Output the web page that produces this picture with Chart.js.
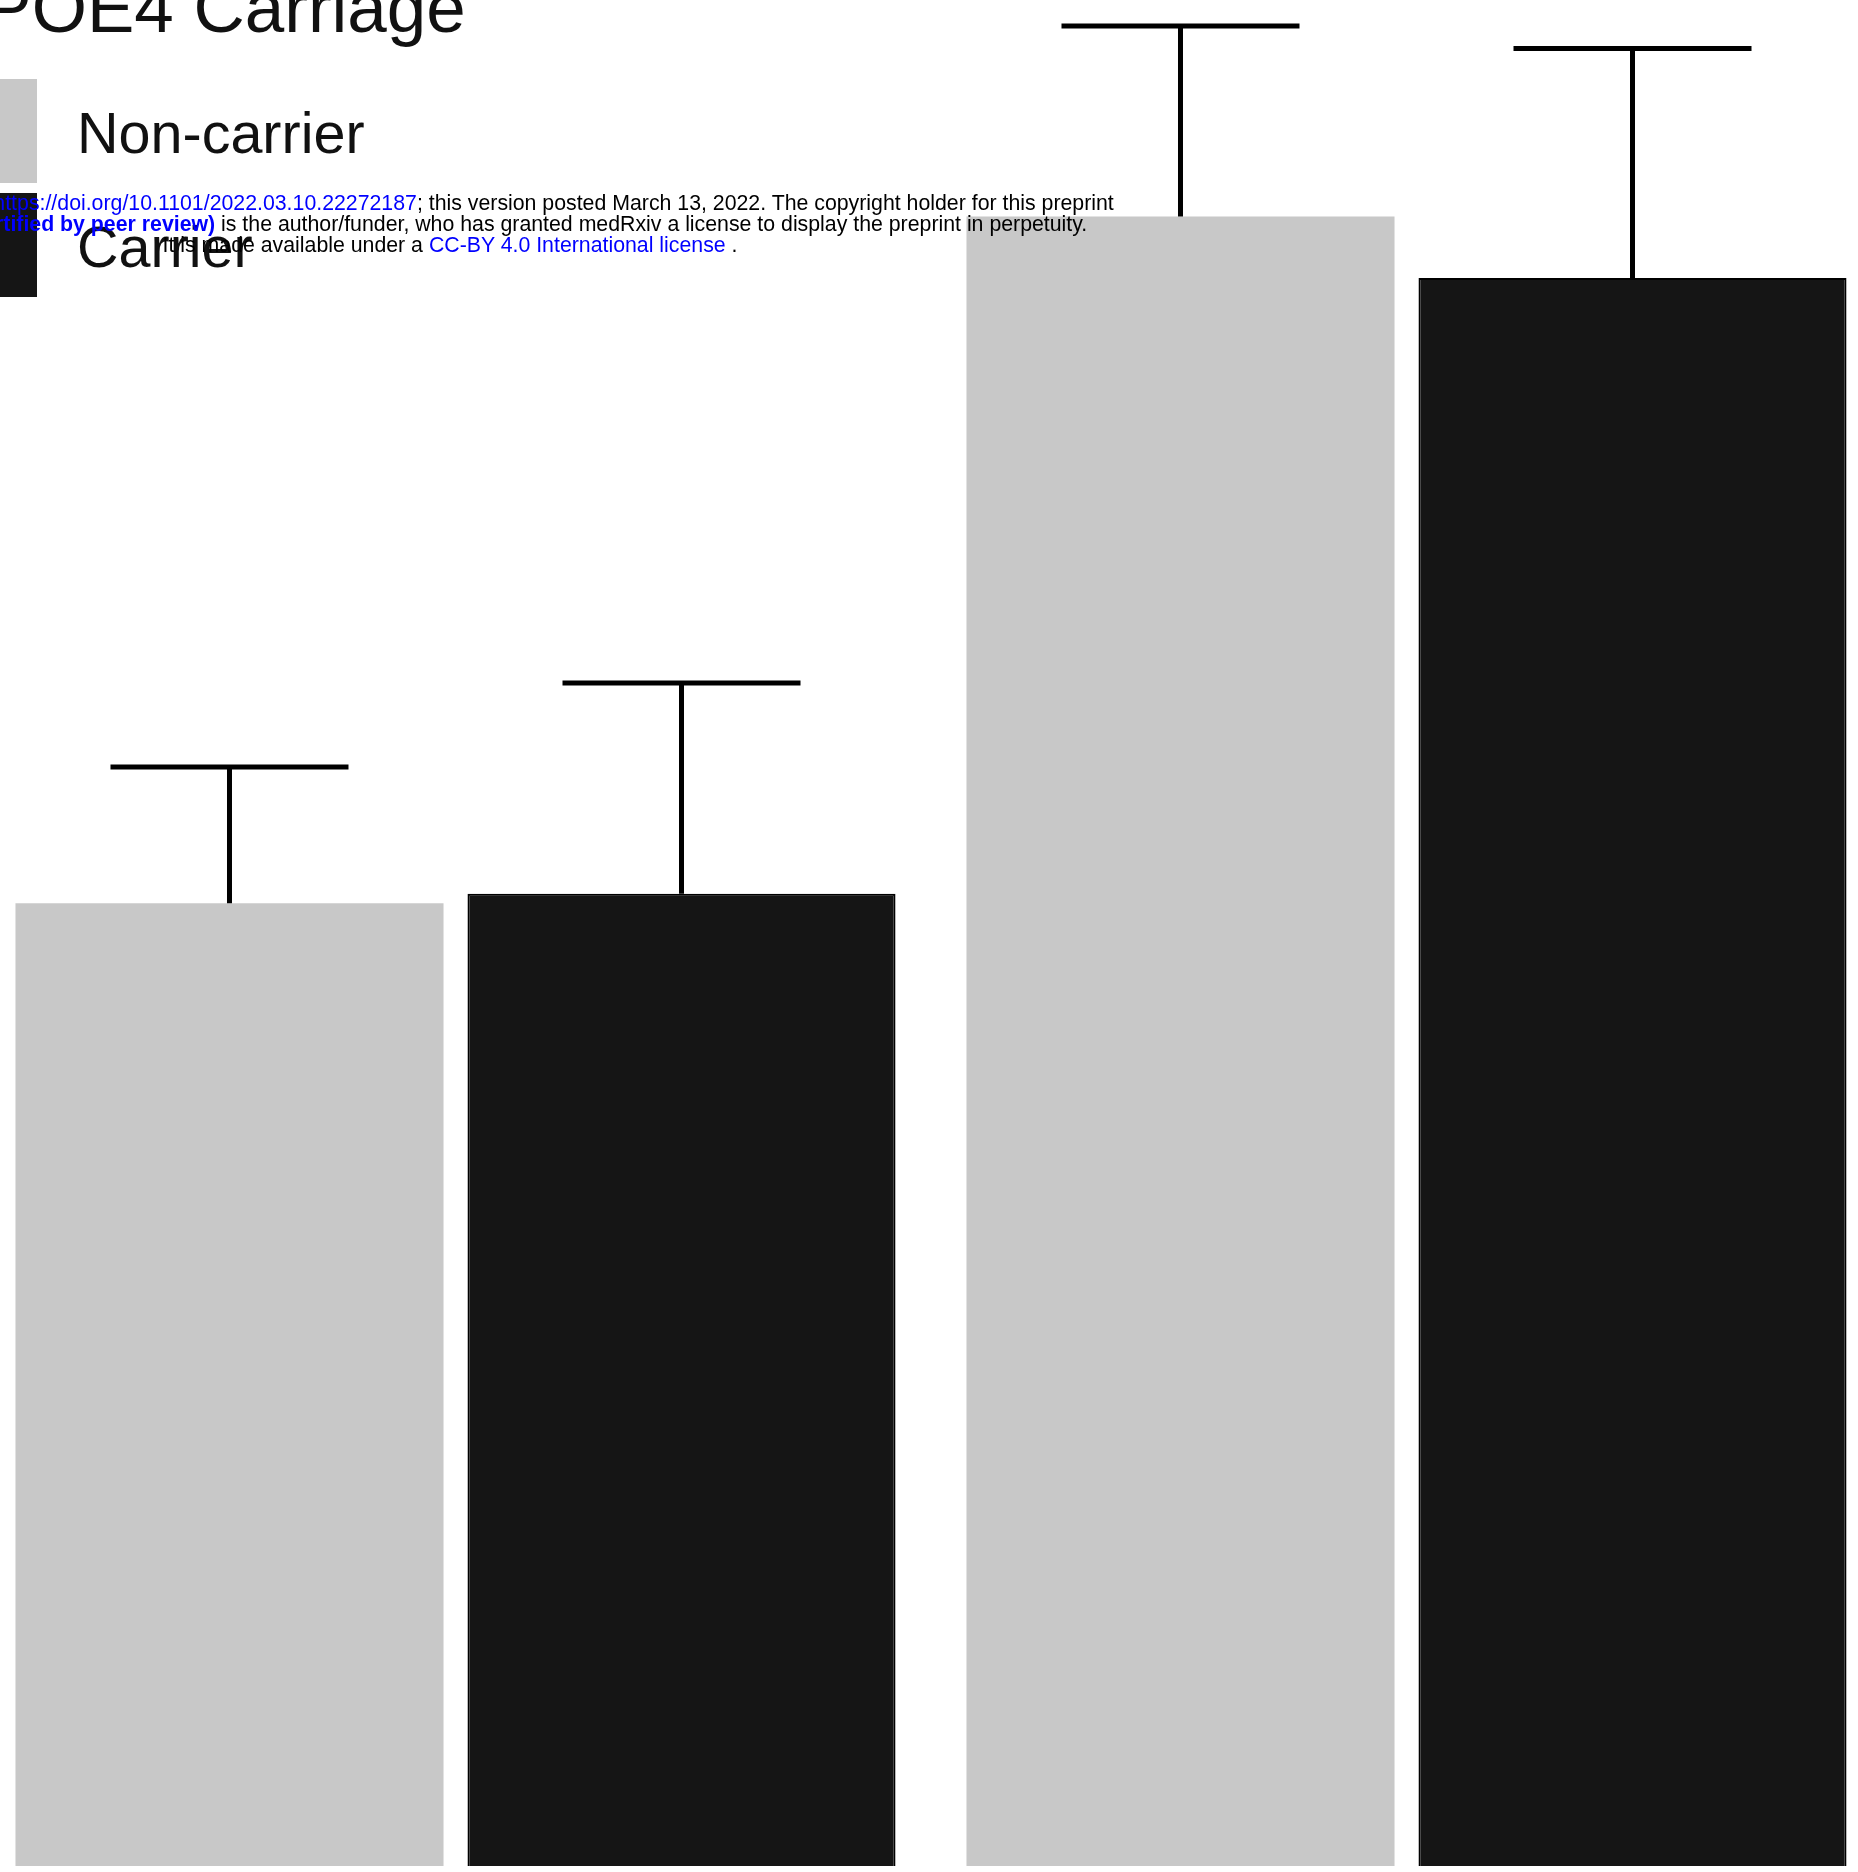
<!DOCTYPE html>
<html lang="en">
<head>
	<meta charset="UTF-8">
	<title>APOE4 Carriage</title>
	<style>
	*{
		margin: 0;
		padding: 0;
		box-sizing: border-box;
	}
	body{
		width: 1858px;
		height: 1872px;
		overflow: hidden;
		background: #fff;
		position: relative;
		font-family: Arial, "Liberation Sans", Helvetica, sans-serif;
	}
	#chartbox{
		position: absolute;
		left: -20px;
		top: 0;
		width: 1902px;
		height: 1866px;
	}
	.title{
		position: absolute;
		left: -63px;
		top: -28px;
		font-size: 71px;
		line-height: 71px;
		color: #111;
		white-space: nowrap;
	}
	.legend-item{
		position: absolute;
		left: -67px;
		height: 105px;
	}
	.legend-item .swatch{
		position: absolute;
		left: 0;
		top: 0;
		width: 104px;
		height: 104px;
	}
	.legend-item .label{
		position: absolute;
		left: 144px;
		top: 26px;
		font-size: 57.5px;
		line-height: 57px;
		color: #111;
		white-space: nowrap;
	}
	.stamp{
		position: absolute;
		left: 2px;
		top: 193px;
		width: 896px;
		text-align: center;
		font-size: 21.3px;
		line-height: 21px;
		color: #000;
		white-space: nowrap;
	}
	.stamp div{
		width: 896px;
		display: flex;
		justify-content: center;
	}
	.stamp span{ white-space: pre; }
	.blue{ color: #0000ff; }
	.bold{ font-weight: bold; }
	</style>
</head>
<body>
	<div id="chartbox">
		<canvas id="myChart" width="1902" height="1866"></canvas>
	</div>

	<div class="title">APOE4 Carriage</div>
	<div id="legend"></div>

	<div class="stamp">
		<div><span>medRxiv preprint doi: </span><span class="blue">https://doi.org/10.1101/2022.03.10.22272187</span><span>; this version posted March 13, 2022. The copyright holder for this preprint</span></div>
		<div><span class="blue bold">(which was not certified by peer review)</span><span> is the author/funder, who has granted medRxiv a license to display the preprint in perpetuity.</span></div>
		<div><span>It is made available under a </span><span class="blue">CC-BY 4.0 International license</span><span> .</span></div>
	</div>

<script src="https://cdn.jsdelivr.net/npm/chart.js"></script>

<script>
// values (no axis shown, scale 0-100)
const groups = ['Group 1', 'Group 2'];
const seriesNames = ['Non-carrier', 'Carrier'];
const nonCarrier = [51.6, 88.4];
const carrier = [52.1, 85.1];
const nonCarrierErr = [7.3, 10.2];
const carrierErr = [11.3, 12.3];

const fillColors = ['#c8c8c8', '#151515'];
const edgeColors = ['#c8c8c8', '#000000'];

//Setup block
const data = {
	labels: groups,
	datasets: [{
		label: seriesNames[0],
		data: nonCarrier,
		errors: nonCarrierErr,
		backgroundColor: fillColors[0],
		borderColor: edgeColors[0],
		borderWidth: 0
	}, {
		label: seriesNames[1],
		data: carrier,
		errors: carrierErr,
		backgroundColor: fillColors[1],
		borderColor: edgeColors[1],
		borderWidth: 2
	}]
};

// error bars: stem from bar top to mean+err, plus a cap
const errorBars = {
	id: 'errorBars',
	afterDatasetsDraw(chart){
		const ctx = chart.ctx;
		const y = chart.scales.y;
		ctx.save();
		ctx.strokeStyle = '#000';
		ctx.lineWidth = 5;
		chart.data.datasets.forEach((ds, i) => {
			const meta = chart.getDatasetMeta(i);
			meta.data.forEach((bar, j) => {
				const top = y.getPixelForValue(ds.data[j] + ds.errors[j]);
				const half = bar.width * 0.278;
				ctx.beginPath();
				ctx.moveTo(bar.x, bar.y);
				ctx.lineTo(bar.x, top);
				ctx.moveTo(bar.x - half, top);
				ctx.lineTo(bar.x + half, top);
				ctx.stroke();
			});
		});
		ctx.restore();
	}
};

//Config block
const config = {
	type: 'bar',
	data,
	options: {
		responsive: false,
		animation: false,
		devicePixelRatio: 1,
		layout: { padding: 0 },
		datasets: {
			bar: {
				categoryPercentage: 0.9506,
				barPercentage: 0.947
			}
		},
		plugins: {
			legend: { display: false },
			title: { display: false },
			tooltip: { enabled: false }
		},
		scales: {
			x: { display: false },
			y: { display: false, min: 0, max: 100 }
		}
	},
	plugins: [errorBars]
};

//Init Render block
const myChart = new Chart(document.getElementById('myChart'), config);

// html legend from the datasets
const legend = document.getElementById('legend');
myChart.data.datasets.forEach((ds, i) => {
	const item = document.createElement('div');
	item.className = 'legend-item';
	item.style.top = (79 + i * 114) + 'px';
	item.innerHTML = '<div class="swatch" style="background:' + ds.backgroundColor + '"></div><div class="label">' + ds.label + '</div>';
	legend.appendChild(item);
});
</script>
</body>
</html>
